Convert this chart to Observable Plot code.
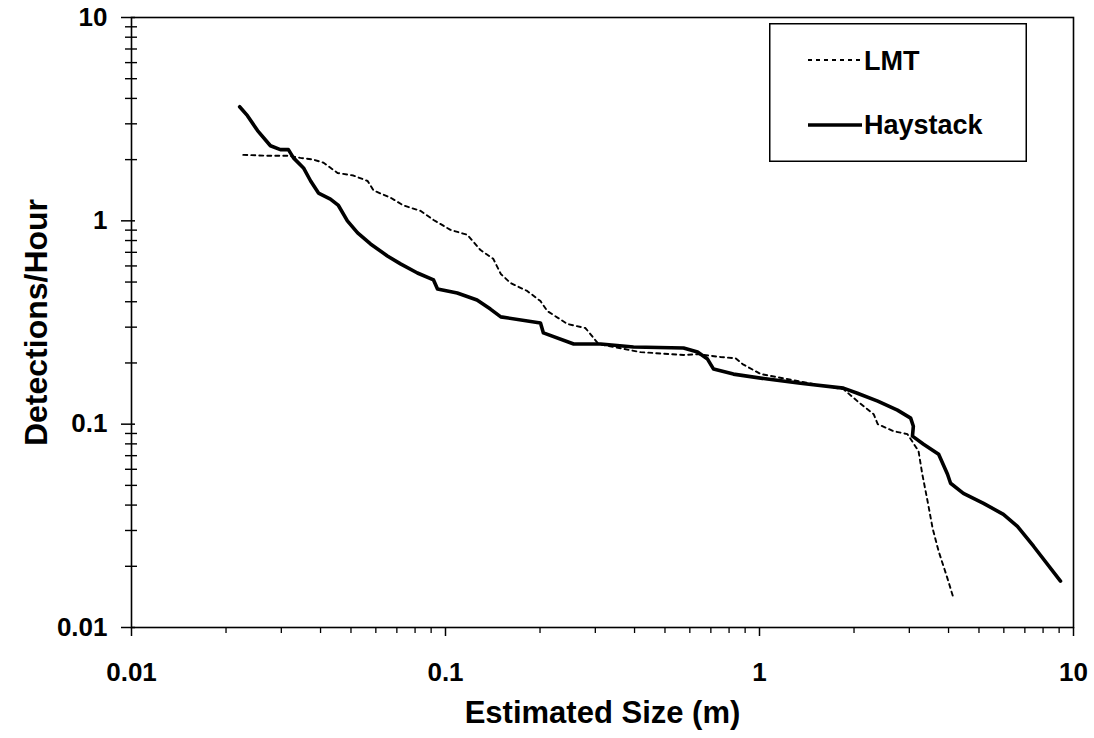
<!DOCTYPE html>
<html>
<head>
<meta charset="utf-8">
<script src="https://cdn.jsdelivr.net/npm/d3@7"></script>
<script src="https://cdn.jsdelivr.net/npm/@observablehq/plot@0.6"></script>
<style>
  body { margin: 0; background: #fff; }
  #wrap { position: relative; width: 1094px; height: 738px; font-family: "Liberation Sans", Arial, sans-serif; font-weight: bold; }
  #legend { position: absolute; left: 769px; top: 23px; }
</style>
</head>
<body>
<div id="wrap"></div>
<script>
// ---- Data ----
const haystackSize = [0.0221,0.0234,0.0252,0.0277,0.0298,0.0316,0.0328,0.0353,0.0372,0.0394,
  0.0430,0.0456,0.0487,0.0525,0.0577,0.0653,0.0719,0.0814,0.0916,0.0943,
  0.109,0.126,0.139,0.150,0.2007,0.205,0.256,0.312,0.397,0.573,
  0.635,0.683,0.714,0.826,1.06,1.35,1.85,2.05,2.38,2.75,
  3.03,3.09,3.07,3.33,3.72,3.97,4.06,4.46,5.17,5.98,
  6.63,7.46,9.09];
const haystackRate = [3.64,3.29,2.78,2.34,2.24,2.24,2.04,1.82,1.57,1.37,
  1.28,1.19,1.00,0.873,0.770,0.672,0.614,0.554,0.512,0.462,
  0.442,0.408,0.368,0.337,0.3145,0.281,0.248,0.248,0.2395,0.2368,
  0.2263,0.209,0.1866,0.1763,0.1666,0.159,0.1504,0.142,0.1298,0.1172,
  0.1071,0.0977,0.0873,0.0797,0.0711,0.0567,0.0512,0.0457,0.0408,0.0360,
  0.0314,0.0251,0.0169];

const lmtSize = [0.0227,0.0271,0.0314,0.0345,0.0380,0.0409,0.0453,0.0509,0.0565,0.0590,
  0.0668,0.0735,0.0832,0.0916,0.1037,0.1175,0.129,0.142,0.150,0.161,
  0.182,0.2007,0.211,0.2446,0.279,0.307,0.418,0.573,0.635,0.751,
  0.839,0.883,1.01,1.68,1.85,2.05,2.31,2.38,2.67,2.96,
  3.21,3.30,3.43,3.56,3.72,3.97,4.15];
const lmtRate = [2.11,2.09,2.09,2.04,2.00,1.93,1.72,1.67,1.57,1.41,
  1.30,1.19,1.12,1.01,0.903,0.853,0.720,0.650,0.548,0.495,
  0.452,0.403,0.360,0.311,0.297,0.248,0.226,0.219,0.221,0.214,
  0.211,0.1975,0.1763,0.152,0.1487,0.1298,0.112,0.100,0.0924,0.0893,
  0.0736,0.0567,0.0418,0.0307,0.0237,0.0174,0.0139];

const seriesNames = ["LMT", "Haystack"];
const xMajor = [0.01, 0.1, 1, 10];
const xTickLabels = ["0.01", "0.1", "1", "10"];
const yMajor = [0.01, 0.1, 1, 10];
const yTickLabels = ["0.01", "0.1", "1", "10"];
const minorTicks = [0.02,0.03,0.04,0.05,0.06,0.07,0.08,0.09,
  0.2,0.3,0.4,0.5,0.6,0.7,0.8,0.9,
  2,3,4,5,6,7,8,9];
const xTitle = "Estimated Size (m)";
const yTitle = "Detections/Hour";

// ---- Build tables ----
const haystack = haystackSize.map((s, i) => ({size: s, rate: haystackRate[i]}));
const lmt = lmtSize.map((s, i) => ({size: s, rate: lmtRate[i]}));

const font = "Liberation Sans, Arial, sans-serif";

const chart = Plot.plot({
  width: 1094,
  height: 738,
  marginLeft: 131,
  marginRight: 21,
  marginTop: 17,
  marginBottom: 111,
  x: {type: "log", domain: [0.01, 10], label: null},
  y: {type: "log", domain: [0.01, 10], label: null},
  style: {fontFamily: font, fontWeight: "bold", background: "#fff", color: "#000", overflow: "visible"},
  marks: [
    Plot.frame({stroke: "#000", strokeWidth: 1.6}),
    // x minor ticks
    Plot.axisX({ticks: minorTicks, tickSize: 6, tickFormat: () => "", strokeWidth: 1.3, label: null}),
    // x major ticks + labels
    Plot.axisX({ticks: xMajor, tickSize: 9, tickPadding: 26, strokeWidth: 1.5,
      tickFormat: d => xTickLabels[xMajor.indexOf(d)], fontSize: 26, fontWeight: "bold", label: null}),
    // y minor ticks crossing the axis
    Plot.axisY({ticks: minorTicks, tickSize: 12, dx: 6, tickFormat: () => "", strokeWidth: 1.4, label: null}),
    // y major ticks crossing the axis
    Plot.axisY({ticks: yMajor, tickSize: 14, dx: 4, tickFormat: () => "", strokeWidth: 1.5, label: null}),
    // y labels
    Plot.axisY({ticks: yMajor, tickSize: 0, tickPadding: 24,
      tickFormat: d => yTickLabels[yMajor.indexOf(d)], fontSize: 26, fontWeight: "bold", label: null}),
    // series
    Plot.line(lmt, {x: "size", y: "rate", stroke: "#000", strokeWidth: 1.9, strokeDasharray: "4,4"}),
    Plot.line(haystack, {x: "size", y: "rate", stroke: "#000", strokeWidth: 3.6, strokeLinejoin: "round", strokeLinecap: "round"}),
    // axis titles
    Plot.text([xTitle], {frameAnchor: "bottom", textAnchor: "middle", lineAnchor: "middle", dy: 86,
      fontSize: 31, fontWeight: "bold", fill: "#000"}),
    Plot.text([yTitle], {frameAnchor: "left", textAnchor: "middle", lineAnchor: "middle", rotate: -90, dx: -95,
      fontSize: 32, fontWeight: "bold", fill: "#000"})
  ]
});

const wrap = document.getElementById("wrap");
wrap.appendChild(chart);

// ---- Legend (inside the plot area, top-right) ----
const legend = document.createElement("div");
legend.id = "legend";
const lw = 258, lh = 139;
const styles = [
  {name: seriesNames[0], width: 1.9, dash: "4,4", ly: 37, ty: 47},
  {name: seriesNames[1], width: 3.6, dash: null, ly: 102, ty: 111}
];
let svg = `<svg width="${lw}" height="${lh}" xmlns="http://www.w3.org/2000/svg">` +
  `<rect x="0.75" y="0.75" width="${lw - 1.5}" height="${lh - 1.5}" fill="#fff" stroke="#000" stroke-width="1.5"/>`;
for (const s of styles) {
  svg += `<line x1="39" x2="93" y1="${s.ly}" y2="${s.ly}" stroke="#000" stroke-width="${s.width}"${s.dash ? ` stroke-dasharray="${s.dash}"` : ""}/>`;
  svg += `<text x="95" y="${s.ty}" font-family="${font}" font-weight="bold" font-size="27" fill="#000">${s.name}</text>`;
}
svg += `</svg>`;
legend.innerHTML = svg;
wrap.appendChild(legend);
</script>
</body>
</html>
